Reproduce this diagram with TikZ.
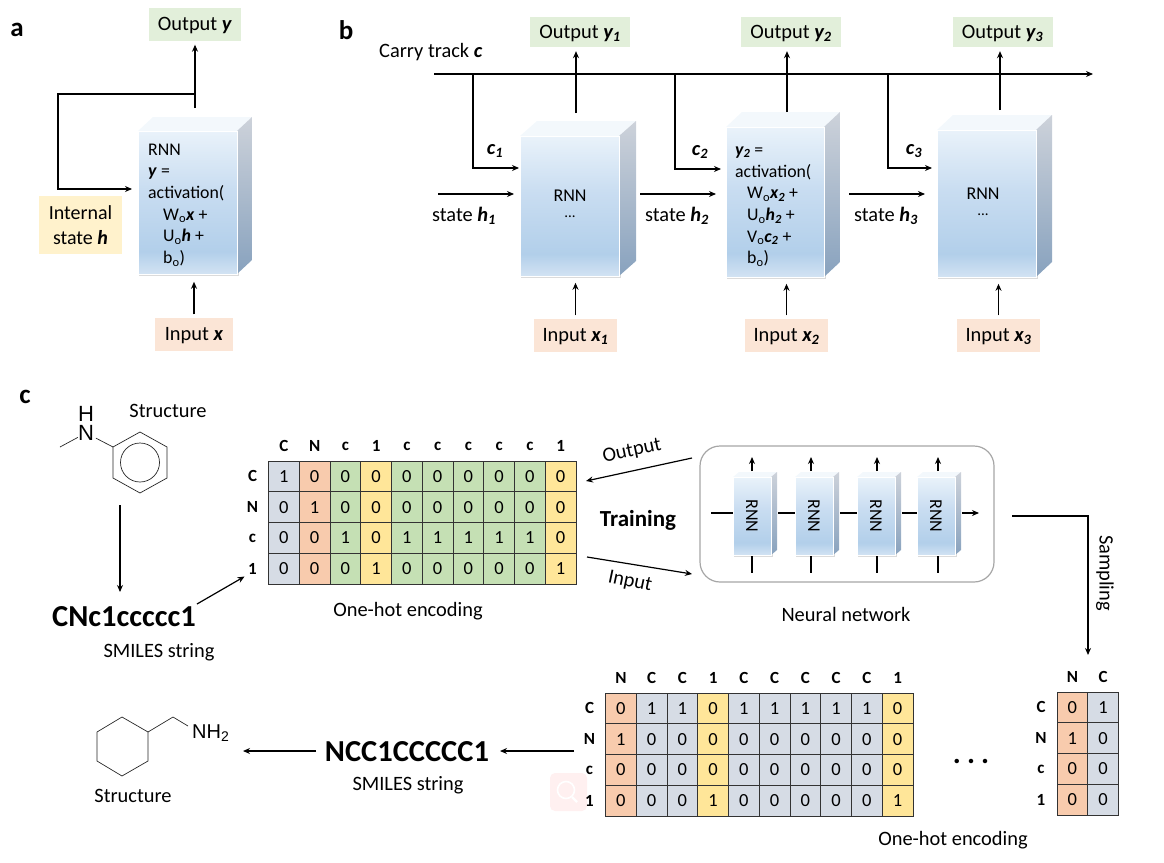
\documentclass[tikz,border=0pt]{standalone}
\usepackage{fontspec}
\setmainfont{Carlito}
\newfontfamily\chemfont{Liberation Sans}
\usepackage{tikz}
\usetikzlibrary{arrows.meta}

\definecolor{outgreen}{HTML}{E2EFDA}
\definecolor{ingold}{HTML}{FBE5D6}
\definecolor{stateyellow}{HTML}{FFF2CC}
\definecolor{cgray}{HTML}{D6DCE5}
\definecolor{corange}{HTML}{F8CBAD}
\definecolor{cgreen}{HTML}{C5E0B4}
\definecolor{cyellow}{HTML}{FFE699}
\definecolor{celline}{HTML}{333333}
\definecolor{facea}{HTML}{D3E3F3}
\definecolor{faceb}{HTML}{B2CFEA}
\definecolor{facec}{HTML}{C9DDF1}
\definecolor{faced}{HTML}{E9F2FA}
\definecolor{facetop}{HTML}{F3F8FC}
\definecolor{sidea}{HTML}{CDD2DA}
\definecolor{sideb}{HTML}{88A2BE}

\pgfdeclareverticalshading{rnnface}{100bp}{color(0bp)=(facea);color(25bp)=(facea);color(33bp)=(faceb);color(55bp)=(facec);color(75bp)=(faced);color(100bp)=(faced)}

\tikzset{
	lbl/.style = {font=\fontsize{20.4}{24}\selectfont, inner sep=0pt},
	tag/.style = {lbl, minimum height=33pt, inner sep=0pt, text height=14pt, text depth=2pt},
	bigsmiles/.style = {font=\fontsize{30.5}{34}\selectfont\bfseries, inner sep=0pt},
	boxtext/.style = {font=\fontsize{17.8}{21.7}\selectfont, align=left, anchor=north west, inner sep=0pt},
	panel/.style = {font=\fontsize{27}{30}\selectfont\bfseries, inner sep=0pt},
	hdr/.style = {font=\fontsize{17}{19}\selectfont\bfseries, inner sep=0pt},
	cell/.style = {draw=celline, line width=0.9pt, inner sep=0pt, font=\fontsize{18.5}{20}\selectfont},
	main/.style = {line width=1.6pt, black},
	thin line/.style = {line width=1.2pt, black},
	bond/.style = {line width=0.7pt, black!85}
}

% Bold italic letters
\newcommand{\bi}[1]{\textbf{\textit{#1}}}

% Box with top and side: name, left, top, width, height, dx, dy
\newcommand{\rnnbox}[7]{
	\fill[black!14] (#2+1,#3+1) rectangle (#2+#4+2,#3+#5+2);
	\fill[facetop] (#2,#3) -- (#2+#6,#3-#7) -- (#2+#4+#6,#3-#7) -- (#2+#4,#3) -- cycle;
	\path[shade, top color=sidea, bottom color=sideb] (#2+#4,#3) -- (#2+#4+#6,#3-#7) -- (#2+#4+#6,#3+#5-#7) -- (#2+#4,#3+#5) -- cycle;
	\node[shading=rnnface, draw=white, line width=0.8pt, minimum width=#4, minimum height=#5, anchor=north west, inner sep=0pt] (#1) at (#2,#3) {};
}

% One-hot table: name, left, top, columns
\newcommand{\onehot}[4]{
	\foreach \lab [count=\i] in {C,N,c,1}
		\node[hdr] (#1-r\i) at (#2-16,{#3+(\i-0.5)*30.8}) {\lab};
	\foreach \hd/\clr/\va/\vb/\vc/\vd [count=\j] in {#4} {
		\node[hdr] (#1-h\j) at ({#2+(\j-0.5)*30.75},#3-15) {\hd};
		\foreach \val [count=\i] in {\va,\vb,\vc,\vd}
			\node[cell, fill=\clr, minimum width=30.75, minimum height=30.8] (#1-\i-\j) at ({#2+(\j-0.5)*30.75},{#3+(\i-0.5)*30.8}) {\val};
	}
}

\begin{document}
\begin{tikzpicture}[x=1pt, y=-1pt, >={Stealth[length=7pt,width=6pt]}]
	\useasboundingbox (0,0) rectangle (1164,862);
	
	% Panel a
	\node[panel] (la) at (17,30) {a};
	\node[tag, fill=outgreen, minimum width=92] (outa) at (195,24) {Output \bi{y}};
	\node[tag, fill=ingold, minimum width=78] (ina) at (194,334) {Input \bi{x}};
	\node[lbl, fill=stateyellow, minimum width=83, minimum height=58, align=center, font=\fontsize{20}{25}\selectfont] (sta) at (80.5,225) {Internal\\state \bi{h}};
	\rnnbox{ra}{138}{131}{99}{143}{15}{14}
	\node[boxtext] (ta) at (148,143.5) {RNN\\\bi{y} =\\activation(\\\hspace*{15pt}W\textsubscript{o}\bi{x} +\\\hspace*{15pt}U\textsubscript{o}\bi{h} +\\\hspace*{15pt}b\textsubscript{o})};
	
	\coordinate (atop) at (195,108);
	\coordinate (ajoin) at (195,94);
	\coordinate (acorner) at (58,94);
	\coordinate (aback) at (58,189);
	\coordinate (aenter) at (132,189);
	\draw[main, ->, shorten >=4pt] (atop) -- (outa.south);
	\draw[main, ->] (ajoin) -- (acorner) -- (aback) -- (aenter);
	\draw[main, ->, shorten <=3pt, shorten >=7pt] (ina.north) -- (ina.north |- ra.south);
	
	% Panel b
	\node[panel] (lb) at (346,30) {b};
	\node[lbl, anchor=west] (carry) at (379,52) {Carry track \bi{c}};
	\coordinate (cstart) at (434,74);
	\coordinate (cend) at (1093,74);
	\draw[main, ->] (cstart) -- (cend);
	
	\rnnbox{r1}{520}{136}{99}{140}{17}{15}
	\rnnbox{r2}{726}{127}{98}{150}{16}{15}
	\rnnbox{r3}{937}{130}{99}{147}{16}{15}
	\node[lbl, font=\fontsize{18}{20}\selectfont] (t1) at (570,196) {RNN};
	\node[lbl, font=\fontsize{15}{18}\selectfont] (d1) at (570,217) {...};
	\node[boxtext] (t2) at (735,146.5) {\bi{y\textsubscript{2}} =\\activation(\\\hspace*{12pt}W\textsubscript{o}\bi{x\textsubscript{2}} +\\\hspace*{12pt}U\textsubscript{o}\bi{h\textsubscript{2}} +\\\hspace*{12pt}V\textsubscript{o}\bi{c\textsubscript{2}} +\\\hspace*{12pt}b\textsubscript{o})};
	\node[lbl, font=\fontsize{18}{20}\selectfont] (t3) at (983,194) {RNN};
	\node[lbl, font=\fontsize{15}{18}\selectfont] (d3) at (983,215) {...};
	
	% Outputs, inputs, tracks and states of b
	\foreach \n/\xout/\xin/\xa/\ya/\xc/\yc/\xl/\lx/\ly/\sx/\sl in {1/580/575.5/576/113/473/168/519/495/151/438/464, 2/791/786.5/787/112/675/169/721/700/152/640/677, 3/1002.5/998.5/1000/110/888/168/932/914/151/849/886} {
		\node[tag, fill=outgreen, minimum width=100, minimum height=30] (out\n) at (\xout,32) {Output \bi{y\textsubscript{\n}}};
		\node[tag, fill=ingold, minimum width=83] (in\n) at (\xin,335) {Input \bi{x\textsubscript{\n}}};
		\coordinate (up\n) at (\xa,\ya);
		\coordinate (branch\n) at (\xc,74);
		\coordinate (bend\n) at (\xc,\yc);
		\coordinate (enter\n) at (\xl,\yc);
		\draw[main, ->, shorten >=4pt] (up\n) -- (up\n |- out\n.south);
		\draw[main, ->] (branch\n) -- (bend\n) -- (enter\n);
		\draw[main, ->, shorten <=3pt, shorten >=6pt] (in\n.north) -- (in\n.north |- r\n.south);
		\node[lbl] (cl\n) at (\lx,\ly) {\bi{c\textsubscript{\n}}};
		\coordinate (sa\n) at (\sx,194);
		\coordinate (sb\n) at (\sx+76,194);
		\draw[main, ->] (sa\n) -- (sb\n);
		\node[lbl] (sl\n) at (\sl,215.5) {state \bi{h\textsubscript{\n}}};
	}
	
	% Panel c, first molecule
	\node[panel] (lc) at (25,397) {c};
	\node[lbl] (st1) at (168,411) {Structure};
	\node[font=\chemfont\fontsize{22}{24}\selectfont, inner sep=0pt] (nh) at (86,433) {N};
	\node[font=\chemfont\fontsize{22}{24}\selectfont, inner sep=0pt] (hh) at (86,414) {H};
	\coordinate (me) at (60,447);
	\coordinate (ra1) at (140,432);
	\coordinate (ra2) at (167,447);
	\coordinate (ra3) at (167,478);
	\coordinate (ra4) at (140,493);
	\coordinate (ra5) at (113,478);
	\coordinate (ra6) at (113,447);
	\draw[bond] (ra1) -- (ra2) -- (ra3) -- (ra4) -- (ra5) -- (ra6) -- cycle;
	\draw[bond] (140,462.5) circle (19.5);
	\draw[bond] (me) -- (nh);
	\draw[bond, shorten <=2pt] (nh) -- (ra6);
	
	% SMILES of the first molecule
	\node[bigsmiles] (sm1) at (124,617) {CNc1ccccc1};
	\node[lbl] (sl1) at (159,652) {SMILES string};
	\coordinate (mola) at (120,505);
	\coordinate (mols) at (120,592);
	\draw[thin line, ->] (mola) -- (mols);
	
	% Pink mark in front of the page
	\fill[rounded corners=5pt, red!6] (550,773) rectangle (587,811);
	\draw[white, line width=1.6pt] (566,790) circle (8.5);
	\draw[white, line width=2.4pt] (572,797) -- (577,802);
	
	% Tables
	\onehot{t1}{268.5}{461}{C/cgray/1/0/0/0, N/corange/0/1/0/0, c/cgreen/0/0/1/0, 1/cyellow/0/0/0/1, c/cgreen/0/0/1/0, c/cgreen/0/0/1/0, c/cgreen/0/0/1/0, c/cgreen/0/0/1/0, c/cgreen/0/0/1/0, 1/cyellow/0/0/0/1}
	\onehot{t2}{605.5}{693}{N/corange/0/1/0/0, C/cgray/1/0/0/0, C/cgray/1/0/0/0, 1/cyellow/0/0/0/1, C/cgray/1/0/0/0, C/cgray/1/0/0/0, C/cgray/1/0/0/0, C/cgray/1/0/0/0, C/cgray/1/0/0/0, 1/cyellow/0/0/0/1}
	\onehot{t3}{1057}{692}{N/corange/0/1/0/0, C/cgray/1/0/0/0}
	\node[lbl] (oh1) at (408,611) {One-hot encoding};
	\node[lbl] (oh2) at (953,840) {One-hot encoding};
	\node[font=\fontsize{30}{30}\selectfont\bfseries, inner sep=0pt] (dots) at (971,761) {.\hspace{6pt}.\hspace{6pt}.};
	\coordinate (smout) at (197,604);
	\draw[thin line, ->, shorten >=4pt] (smout) -- (t1-r4.south west);
	
	% Training between table and network
	\node[lbl, font=\fontsize{23}{26}\selectfont\bfseries] (train) at (638,520) {Training};
	\node[draw=black!35, line width=1.2pt, rounded corners=20pt, minimum width=294, minimum height=136, inner sep=0pt] (nn) at (847,514) {};
	\coordinate (oa) at (692,458);
	\coordinate (ob) at (586,481);
	\coordinate (ia) at (587,557);
	\coordinate (ib) at (692,574);
	\draw[thin line, ->] (oa) -- (ob);
	\draw[thin line, ->] (ia) -- (ib);
	\node[lbl, rotate=12] (ol) at (632,451) {Output};
	\node[lbl, rotate=-12] (il) at (630,582) {Input};
	\node[lbl] (nnl) at (846,614) {Neural network};
	
	% Small RNN boxes
	\foreach \n/\xb/\xu in {1/733/752, 2/795/811, 3/857/877, 4/917/938} {
		\rnnbox{n\n}{\xb}{477}{38}{78}{6}{5}
		\node[lbl, font=\fontsize{18}{20}\selectfont, rotate=-90] (nt\n) at (\xb+19,516) {RNN};
		\coordinate (nu\n) at (\xu,471);
		\coordinate (nv\n) at (\xu,457);
		\coordinate (nd\n) at (\xu,556);
		\coordinate (ne\n) at (\xu,573);
		\draw[thin line, ->] (nu\n) -- (nv\n);
		\draw[thin line] (nd\n) -- (ne\n);
	}
	\coordinate (nlin) at (711,513);
	\coordinate (nlout) at (979,513);
	\draw[thin line] (nlin) -- (n1.west |- nlin);
	\draw[thin line] (n1.east |- nlin) ++(6,0) -- (n2.west |- nlin);
	\draw[thin line] (n2.east |- nlin) ++(6,0) -- (n3.west |- nlin);
	\draw[thin line] (n3.east |- nlin) ++(6,0) -- (n4.west |- nlin);
	\draw[thin line, ->] (n4.east |- nlin) ++(6,0) -- (nlout);
	
	% Sampling
	\coordinate (sma) at (1012,516);
	\coordinate (smb) at (1088,516);
	\coordinate (smc) at (1088,655);
	\draw[thin line, ->] (sma) -- (smb) -- (smc);
	\node[lbl, rotate=-90] (samp) at (1105,573) {Sampling};
	
	% Second molecule and SMILES
	\node[bigsmiles] (sm2) at (407,752) {NCC1CCCCC1};
	\node[lbl] (sl2) at (408,785) {SMILES string};
	\coordinate (tbout) at (574,751);
	\coordinate (tbin) at (500,751);
	\draw[thin line, ->] (tbout) -- (tbin);
	\coordinate (molin) at (243,751);
	\coordinate (molout) at (316,751);
	\draw[thin line, ->] (molout) -- (molin);
	\coordinate (rb1) at (122,717);
	\coordinate (rb2) at (148,732);
	\coordinate (rb3) at (148,761);
	\coordinate (rb4) at (122,776);
	\coordinate (rb5) at (97,761);
	\coordinate (rb6) at (97,732);
	\draw[bond] (rb1) -- (rb2) -- (rb3) -- (rb4) -- (rb5) -- (rb6) -- cycle;
	\node[font=\chemfont\fontsize{20}{22}\selectfont, inner sep=0pt, anchor=west] (nh2) at (192,733) {NH\textsubscript{2}};
	\coordinate (chain) at (173,717);
	\draw[bond] (rb2) -- (chain) -- (188,726);
	\node[lbl] (st2) at (133,796) {Structure};
\end{tikzpicture}
\end{document}
